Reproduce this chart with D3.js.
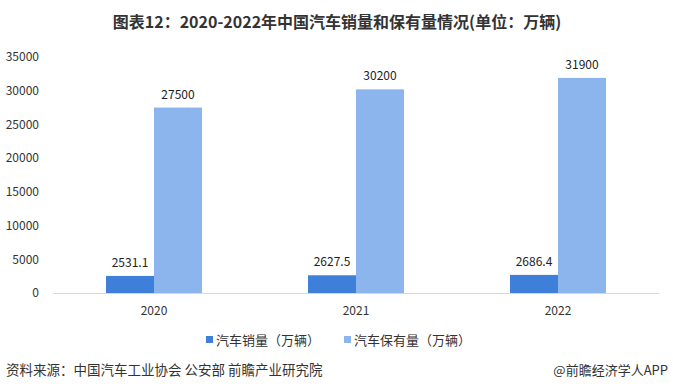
<!DOCTYPE html>
<html>
<head>
<meta charset="utf-8">
<script src="https://cdn.jsdelivr.net/npm/d3@7"></script>
<style>
  body { margin: 0; background: #fff; }
  svg text { font-family: "Microsoft YaHei", "Noto Sans CJK SC", sans-serif; }
</style>
</head>
<body>
<div id="chart"></div>
<script>
// categories and series
const years = ["2020", "2021", "2022"];
const sales = [2531.1, 2627.5, 2686.4];
const stock = [27500, 30200, 31900];
const seriesNames = ["汽车销量（万辆）", "汽车保有量（万辆）"];
const seriesColors = ["#3d7fd9", "#8bb5ec"];
const yTicks = [0, 5000, 10000, 15000, 20000, 25000, 30000, 35000];

const width = 673, height = 390;
const margin = { top: 57, right: 14, bottom: 97, left: 53 };

const svg = d3.select("#chart")
  .append("svg")
    .attr("width", width)
    .attr("height", height);

// title
svg.append("text")
  .attr("x", 337)
  .attr("y", 28)
  .attr("text-anchor", "middle")
  .style("font-size", "16px")
  .style("font-weight", "bold")
  .style("fill", "#333")
  .text("图表12：2020-2022年中国汽车销量和保有量情况(单位：万辆)");

const x = d3.scaleBand()
  .domain(years)
  .range([margin.left, width - margin.right])
  .paddingInner(0.525)
  .paddingOuter(0.2625);

const y = d3.scaleLinear()
  .domain([0, 35000])
  .range([height - margin.bottom, margin.top]);

const half = x.bandwidth() / 2;

const rows = years.map((yr, i) => ({ year: yr, values: [sales[i], stock[i]] }));

// y axis labels only
const yAxis = svg.append("g")
  .attr("transform", `translate(${margin.left - 11},0)`)
  .call(d3.axisLeft(y).tickValues(yTicks).tickSize(0).tickFormat(d3.format("d")));
yAxis.select(".domain").remove();
yAxis.selectAll("text")
  .style("font-size", "12px")
  .style("fill", "#333");

// bars
const groups = svg.selectAll(".grp")
  .data(rows)
  .enter()
  .append("g")
  .attr("transform", d => `translate(${x(d.year)},0)`);

groups.selectAll("rect")
  .data(d => d.values)
  .enter()
  .append("rect")
  .attr("x", (d, i) => i * half)
  .attr("y", d => y(d))
  .attr("width", half)
  .attr("height", d => y(0) - y(d))
  .style("fill", (d, i) => seriesColors[i]);

groups.selectAll(".lbl")
  .data(d => d.values)
  .enter()
  .append("text")
  .attr("x", (d, i) => i * half + half / 2)
  .attr("y", d => y(d) - 9)
  .attr("text-anchor", "middle")
  .style("font-size", "12px")
  .style("fill", "#222")
  .text(d => d);

// x axis
const xAxis = svg.append("g")
  .attr("transform", `translate(0,${y(0)})`)
  .call(d3.axisBottom(x).tickSize(0).tickPadding(13));
xAxis.select(".domain").style("stroke", "#d9d9d9");
xAxis.selectAll("text")
  .style("font-size", "12px")
  .style("fill", "#333");

// legend
const legendX = [206, 344];
const legend = svg.selectAll(".leg")
  .data(seriesNames)
  .enter()
  .append("g")
  .attr("transform", (d, i) => `translate(${legendX[i]},340)`);
legend.append("rect")
  .attr("x", 0)
  .attr("y", -4)
  .attr("width", 7)
  .attr("height", 7)
  .style("fill", (d, i) => seriesColors[i]);
legend.append("text")
  .attr("x", 10)
  .attr("y", 5)
  .style("font-size", "13px")
  .style("fill", "#333")
  .text(d => d);

// footer
svg.append("text")
  .attr("x", 6)
  .attr("y", 375)
  .style("font-size", "13.5px")
  .style("fill", "#333")
  .text("资料来源：中国汽车工业协会 公安部 前瞻产业研究院");

svg.append("text")
  .attr("x", 668)
  .attr("y", 375)
  .attr("text-anchor", "end")
  .style("font-size", "13px")
  .style("fill", "#333")
  .text("@前瞻经济学人APP");
</script>
</body>
</html>
